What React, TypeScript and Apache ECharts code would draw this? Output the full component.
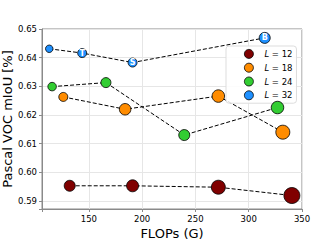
import React, { useEffect, useRef } from "react";
import * as echarts from "echarts";

const seriesNames = ["12", "18", "24", "32"];
const colors = ["#800000", "#ff8c00", "#32cd32", "#1e90ff"];

const flops12 = [132, 191, 271.5, 340.5];
const miou12 = [0.5953, 0.5953, 0.5948, 0.5919];
const sizes12 = [11, 12, 14, 16];

const flops18 = [126, 184, 271.5, 332];
const miou18 = [0.6263, 0.622, 0.6266, 0.614];
const sizes18 = [9, 11.5, 12.5, 14];

const flops24 = [115.5, 166, 239.5, 327];
const miou24 = [0.6299, 0.6313, 0.613, 0.6226];
const sizes24 = [8.5, 10, 11, 12.5];

const flops32 = [112.8, 143.7, 191, 315];
const miou32 = [0.6431, 0.6416, 0.6383, 0.6469];
const sizes32 = [7.5, 9, 9, 11];
const labels32 = ["", "T", "S", "B"];

const xTicks = [150, 200, 250, 300, 350];
const yTicks = [0.59, 0.6, 0.61, 0.62, 0.63, 0.64, 0.65];

const FONT = "DejaVu Sans";

export default function App() {
  const ref = useRef<HTMLDivElement>(null);
  useEffect(() => {
    if (!ref.current) return;
    const chart = echarts.init(ref.current, undefined, { renderer: "svg" });
    const groups = [
      { f: flops12, m: miou12, s: sizes12, l: null as string[] | null },
      { f: flops18, m: miou18, s: sizes18, l: null },
      { f: flops24, m: miou24, s: sizes24, l: null },
      { f: flops32, m: miou32, s: sizes32, l: labels32 },
    ];
    const series = groups.map((g, gi) => ({
      type: "line",
      name: seriesNames[gi],
      z: 2 + gi,
      data: g.f.map((x, i) => ({
        value: [x, g.m[i]],
        symbolSize: g.s[i],
        label: g.l
          ? {
              show: g.l[i] !== "",
              formatter: g.l[i],
              position: "inside",
              color: "#fff",
              fontSize: 8,
              fontWeight: "bold",
              fontFamily: FONT,
            }
          : { show: false },
      })),
      symbol: "circle",
      color: colors[gi],
      itemStyle: { color: colors[gi], borderColor: "#000", borderWidth: 0.8 },
      lineStyle: { color: "#000", width: 1, type: [4, 2] },
      showSymbol: true,
    }));
    chart.setOption({
      animation: false,
      backgroundColor: "#fff",
      textStyle: { fontFamily: FONT },
      grid: {
        left: 42,
        right: 34,
        top: 29,
        bottom: 31,
        show: true,
        borderColor: "#8a8a8a",
        borderWidth: 1,
        outerBoundsMode: "none",
        containLabel: false,
      },
      legend: {
        orient: "vertical",
        left: 226,
        top: 46,
        padding: [3, 4, 3, 18],
        itemWidth: 21,
        itemHeight: 9,
        itemGap: 4,
        icon: "circle",
        backgroundColor: "rgba(255,255,255,0.85)",
        borderColor: "#dddddd",
        borderWidth: 1,
        borderRadius: 3,
        data: seriesNames,
        itemStyle: { borderColor: "#000", borderWidth: 0.8 },
        formatter: (name: string) => "{i|L} = " + name,
        textStyle: {
          fontSize: 8.5,
          color: "#000",
          fontFamily: FONT,
          rich: { i: { fontStyle: "italic", fontSize: 8.5, fontFamily: FONT, color: "#000" } },
        },
      },
      xAxis: {
        type: "value",
        min: 106,
        max: 350,
        name: "FLOPs (G)",
        nameLocation: "middle",
        nameGap: 18,
        nameMoveOverlap: false,
        nameTextStyle: { fontSize: 13, color: "#000", fontFamily: FONT },
        axisLine: { show: true, lineStyle: { color: "#8a8a8a", width: 1 } },
        axisTick: { show: true, length: 3, lineStyle: { color: "#8a8a8a" } },
        axisLabel: {
          fontSize: 8.5,
          color: "#000",
          margin: 5,
          formatter: (v: number) => (xTicks.includes(Math.round(v)) && Math.abs(v - Math.round(v)) < 1e-6 ? String(Math.round(v)) : ""),
        },
        splitLine: { show: true, lineStyle: { color: "#e6e6e6", width: 1 } },
      },
      yAxis: {
        type: "value",
        min: 0.5872,
        max: 0.65,
        name: "Pascal VOC mIoU [%]",
        nameLocation: "middle",
        nameRotate: 90,
        nameGap: 28,
        nameMoveOverlap: false,
        nameTextStyle: { fontSize: 13, color: "#000", fontFamily: FONT },
        axisLine: { show: true, lineStyle: { color: "#8a8a8a", width: 1 } },
        axisTick: { show: true, length: 3, lineStyle: { color: "#8a8a8a" } },
        axisLabel: {
          fontSize: 8.5,
          color: "#000",
          margin: 5,
          formatter: (v: number) =>
            yTicks.some((t) => Math.abs(t - v) < 1e-6) ? v.toFixed(2) : "",
        },
        splitLine: { show: true, lineStyle: { color: "#e6e6e6", width: 1 } },
      },
      series,
    });
    return () => chart.dispose();
  }, []);
  return (
    <div
      ref={ref}
      style={{ position: "fixed", left: 0, top: 0, width: 336, height: 240 }}
    />
  );
}
